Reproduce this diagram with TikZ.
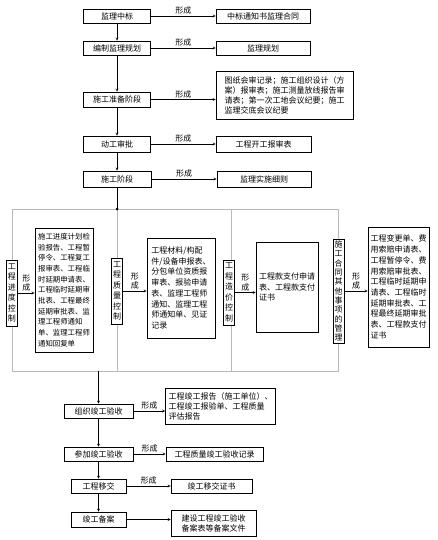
\documentclass[tikz,border=0pt]{standalone}
\usepackage{fontspec}
\setmainfont{Noto Sans CJK SC}
\usetikzlibrary{positioning,arrows}

\begin{document}
\begin{tikzpicture}[
    x=1pt, y=-1pt,
    arrowstyle/.style={draw, -stealth},
    stage/.style={rectangle, draw, line width=0.6pt, minimum width=67pt,
        minimum height=14pt, inner sep=1pt, font=\fontsize{8pt}{10pt}\selectfont},
    record/.style={rectangle, draw, line width=0.6pt, minimum width=94pt,
        minimum height=14pt, inner sep=3pt, align=left, font=\fontsize{8pt}{10pt}\selectfont},
    ctrl/.style={rectangle, draw, fill=white, line width=0.6pt, inner sep=1.5pt,
        align=center, font=\fontsize{8pt}{10.5pt}\selectfont},
    docbox/.style={rectangle, draw, line width=0.6pt, inner sep=2pt, align=left,
        font=\fontsize{8pt}{10.7pt}\selectfont},
    formed/.style={font=\fontsize{8pt}{9.5pt}\selectfont, inner sep=1.5pt, align=center},
    framebox/.style={draw, gray!55, line width=0.8pt}
]
\useasboundingbox (0,0) rectangle (437,540);

\node (Stage01) [stage] at (117,16) {监理中标};
\node (Stage02) [stage] at (117,48) {编制监理规划};
\node (Stage03) [stage, minimum height=15pt] at (117,99.5) {施工准备阶段};
\node (Stage04) [stage, minimum height=16pt] at (117,144) {动工审批};
\node (Stage05) [stage, minimum height=16pt, minimum width=68pt] at (117,179) {施工阶段};

\node (Record01) [record] at (263,16) {中标通知书监理合同};
\node (Record02) [record] at (263,48) {监理规划};
\node (Record03) [record, minimum width=137pt, minimum height=48pt] at (284.5,95)
  {图纸会审记录；施工组织设计（方\\案）报审表；施工测量放线报告审\\请表；第一次工地会议纪要；施工\\监理交底会议纪要};
\node (Record04) [record, minimum height=16pt, minimum width=95pt] at (263.5,144) {工程开工报审表};
\node (Record05) [record, minimum height=16pt] at (264,179) {监理实施细则};

\draw [arrowstyle] (Stage01) -- node [formed, above] {形成} (Record01);
\draw [arrowstyle] (Stage02) -- node [formed, above] {形成} (Record02);
\draw [arrowstyle] (Stage03) -- node [formed, above] {形成} (Stage03 -| Record03.west);
\draw [arrowstyle] (Stage04) -- node [formed, above] {形成} (Record04);
\draw [arrowstyle] (Stage05) -- node [formed, above] {形成} (Record05);

\draw [arrowstyle] (Stage01) -- (Stage02);
\draw [arrowstyle] (Stage02) -- (Stage03);
\draw [arrowstyle] (Stage03) -- (Stage04);
\draw [arrowstyle] (Stage04) -- (Stage05);

\coordinate (FrameTop) at (117,209);
\coordinate (FrameExit) at (98.5,371);
\draw [framebox] (12,209) rectangle (338.5,371);
\draw [framebox] (FrameTop) -- (117,371);
\draw [framebox] (231,209) -- (231,371);
\draw (Stage05) -- (FrameTop);
\fill (FrameTop) circle (1.5pt);

\node (Ctrl01) [ctrl, minimum height=66pt] at (12,293) {工\\程\\进\\度\\控\\制};
\node (Ctrl02) [ctrl, minimum height=66pt] at (117,291) {工\\程\\质\\量\\控\\制};
\node (Ctrl03) [ctrl, minimum height=65pt] at (229,292.5) {工\\程\\造\\价\\控\\制};
\node (Ctrl04) [ctrl, minimum height=104pt, font=\fontsize{8pt}{9.3pt}\selectfont] at (338.5,291)
  {施\\工\\合\\同\\其\\他\\事\\项\\的\\管\\理};

\node (Doc01) [docbox, minimum width=58pt, minimum height=124pt,
    font=\fontsize{7.4pt}{10.7pt}\selectfont] at (64,290)
  {施工进度计划检\\验报告、工程暂\\停令、工程复工\\报审表、工程临\\时延期申请表、\\工程临时延期审\\批表、工程最终\\延期审批表、监\\理工程师通知\\单、监理工程师\\通知回复单};
\node (Doc02) [docbox, minimum width=68pt, minimum height=100pt] at (181,288)
  {工程材料/构配\\件/设备申报表、\\分包单位资质报\\审表、报验申请\\表、监理工程师\\通知、监理工程\\师通知单、见证\\记录};
\node (Doc03) [docbox, minimum width=62pt, minimum height=90pt] at (287,287)
  {工程款支付申请\\表、工程款支付\\证书};
\node (Doc04) [docbox, minimum width=61pt, minimum height=120pt] at (398.5,287)
  {工程变更单、费\\用索赔申请表、\\工程暂停令、费\\用索赔审批表、\\工程临时延期申\\请表、工程临时\\延期审批表、工\\程最终延期审批\\表、工程款支付\\证书};

\draw [arrowstyle] (Ctrl01) -- node [formed, above] {形\\成} (Ctrl01 -| Doc01.west);
\draw [arrowstyle] (Ctrl02) -- node [formed, above] {形\\成} (Ctrl02 -| Doc02.west);
\draw [arrowstyle] (Ctrl03) -- node [formed, above] {形\\成} (Ctrl03 -| Doc03.west);
\draw [arrowstyle] (Ctrl04) -- node [formed, above] {形\\成} (Ctrl04 -| Doc04.west);

\node (Stage06) [stage, minimum width=69pt] at (98.5,411) {组织竣工验收};
\node (Stage07) [stage, minimum width=69pt] at (98.5,454) {参加竣工验收};
\node (Stage08) [stage, minimum width=55pt] at (98.5,486) {工程移交};
\node (Stage09) [stage, minimum width=55pt, minimum height=15pt] at (98.5,519.5) {竣工备案};

\node (Record06) [record, minimum width=109pt, minimum height=36pt] at (220.5,406)
  {工程竣工报告（施工单位）、\\工程竣工报验单、工程质量\\评估报告};
\node (Record07) [record, minimum width=97pt] at (214.5,454) {工程质量竣工验收记录};
\node (Record08) [record, minimum width=81pt] at (211.5,486) {竣工移交证书};
\node (Record09) [record, minimum width=85pt, minimum height=26pt] at (213.5,523)
  {建设工程竣工验收\\备案表等备案文件};

\draw [arrowstyle] (FrameExit) -- (Stage06);
\draw [arrowstyle] (Stage06) -- (Stage07);
\draw [arrowstyle] (Stage07) -- (Stage08);
\draw [arrowstyle] (Stage08) -- (Stage09);

\draw [arrowstyle] (Stage06) -- node [formed, above] {形成} (Stage06 -| Record06.west);
\draw [arrowstyle] (Stage07) -- node [formed, above] {形成} (Record07);
\draw [arrowstyle] (Stage08) -- node [formed, above] {形成} (Record08);
\draw [arrowstyle] (Stage09) -- (Stage09 -| Record09.west);
\end{tikzpicture}
\end{document}
